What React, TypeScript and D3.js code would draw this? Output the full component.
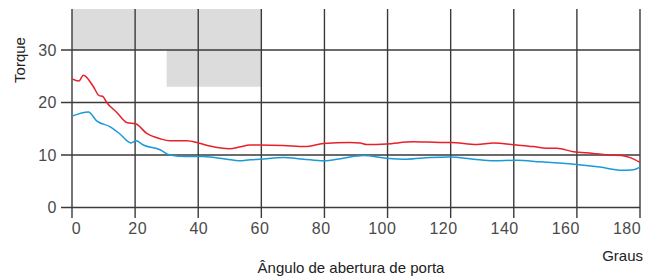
import React, { useEffect, useRef } from 'react';
import * as d3 from 'd3';

// degrees / torque
const redAngles = [0, 2.2, 3.6, 6.8, 8.6, 9.7, 11, 14.2, 17.3, 20.3, 23.7, 27.9, 31, 36.3, 40, 43.7, 50, 53, 56.4, 59.6, 67, 73.9, 79.7, 88.1, 91.3, 93.4, 99.7, 108, 116.6, 120, 128.3, 133.6, 140.9, 146.2, 150.4, 153.6, 158.9, 165.2, 169.5, 174.2, 176.9, 180];
const redTorque = [24.5, 24.1, 25.2, 23.0, 21.3, 21.2, 20.0, 18.1, 16.2, 15.9, 14.1, 13.1, 12.7, 12.7, 12.3, 11.7, 11.2, 11.5, 11.9, 11.9, 11.8, 11.6, 12.2, 12.4, 12.3, 12.0, 12.1, 12.5, 12.4, 12.4, 12.0, 12.3, 11.9, 11.6, 11.3, 11.3, 10.6, 10.3, 10.0, 9.9, 9.5, 8.6];

const blueAngles = [0, 5.2, 7.8, 12, 15.2, 18.7, 20.3, 22.6, 27.9, 31, 36.3, 41.6, 49, 53, 56.4, 59.6, 67, 73.3, 79.7, 86, 92.3, 99.7, 106, 113.5, 119.8, 127.2, 133.6, 140.9, 148.3, 159.9, 167.3, 174.2, 177.9, 180];
const blueTorque = [17.4, 18.2, 16.5, 15.4, 14.0, 12.3, 12.7, 11.9, 11.0, 10.0, 9.7, 9.7, 9.2, 8.9, 9.1, 9.2, 9.5, 9.2, 8.9, 9.4, 9.9, 9.4, 9.2, 9.5, 9.6, 9.2, 8.9, 9.0, 8.7, 8.2, 7.7, 7.1, 7.2, 7.7];

const xTicks = [0, 20, 40, 60, 80, 100, 120, 140, 160, 180];
const yTicks = [0, 10, 20, 30];

const App = () => {
  const svgRef = useRef<SVGSVGElement>(null);

  useEffect(() => {
    const svg = d3.select(svgRef.current);
    svg.selectAll('*').remove();

    const width = 656;
    const height = 277;
    const font = '"Liberation Sans", Arial, sans-serif';

    const x = d3.scaleLinear().domain([0, 180]).range([72, 640]);
    const y = d3.scaleLinear().domain([0, 37.8]).range([207.5, 9]);
    // the printed labels sit on a slightly tighter spacing than the grid
    const xLabel = d3.scaleLinear().domain([0, 180]).range([76.5, 627]);

    // shaded zones
    svg.append('rect')
      .attr('x', x(0)).attr('y', y(37.8))
      .attr('width', x(60) - x(0)).attr('height', y(30) - y(37.8))
      .attr('fill', '#dcdcdd');
    svg.append('rect')
      .attr('x', x(30)).attr('y', y(30))
      .attr('width', x(60) - x(30)).attr('height', y(23) - y(30))
      .attr('fill', '#dcdcdd');

    const grid = svg.append('g').attr('stroke', '#3a3a3a').attr('stroke-width', 1.4);

    grid.selectAll('.vl')
      .data(xTicks)
      .enter().append('line')
      .attr('x1', d => x(d)).attr('x2', d => x(d))
      .attr('y1', y(37.8)).attr('y2', 218);

    grid.selectAll('.hl')
      .data(yTicks)
      .enter().append('line')
      .attr('x1', 61).attr('x2', x(180))
      .attr('y1', d => y(d)).attr('y2', d => y(d));

    const line = d3.line<number>()
      .curve(d3.curveMonotoneX);

    svg.append('path')
      .attr('d', line(redAngles.map((a, i) => [x(a), y(redTorque[i])])))
      .attr('fill', 'none')
      .attr('stroke', '#e8202a')
      .attr('stroke-width', 1.5);

    svg.append('path')
      .attr('d', line(blueAngles.map((a, i) => [x(a), y(blueTorque[i])])))
      .attr('fill', 'none')
      .attr('stroke', '#1a9ad6')
      .attr('stroke-width', 1.5);

    // tick labels
    svg.selectAll('.xl')
      .data(xTicks)
      .enter().append('text')
      .attr('x', d => xLabel(d))
      .attr('y', 234)
      .attr('text-anchor', 'middle')
      .style('font-family', font)
      .style('font-size', '16px')
      .style('letter-spacing', '0.5px')
      .attr('fill', '#4a4a4a')
      .text(d => d);

    svg.selectAll('.yl')
      .data(yTicks)
      .enter().append('text')
      .attr('x', 57)
      .attr('y', d => y(d))
      .attr('dy', '0.35em')
      .attr('text-anchor', 'end')
      .style('font-family', font)
      .style('font-size', '16px')
      .style('letter-spacing', '0.5px')
      .attr('fill', '#4a4a4a')
      .text(d => d);

    svg.append('text')
      .attr('transform', 'translate(25,60) rotate(-90)')
      .attr('text-anchor', 'middle')
      .style('font-family', font)
      .style('font-size', '15px')
      .attr('fill', '#222')
      .text('Torque');

    svg.append('text')
      .attr('x', 643)
      .attr('y', 261)
      .attr('text-anchor', 'end')
      .style('font-family', font)
      .style('font-size', '15px')
      .attr('fill', '#222')
      .text('Graus');

    svg.append('text')
      .attr('x', 351)
      .attr('y', 273)
      .attr('text-anchor', 'middle')
      .style('font-family', font)
      .style('font-size', '15px')
      .attr('fill', '#222')
      .text('Ângulo de abertura de porta');

    svg.attr('width', width).attr('height', height);
  }, []);

  return (
    <svg ref={svgRef} width="656" height="277" style={{ position: 'absolute', left: 0, top: 0, background: '#fff' }}></svg>
  );
};

export default App;
